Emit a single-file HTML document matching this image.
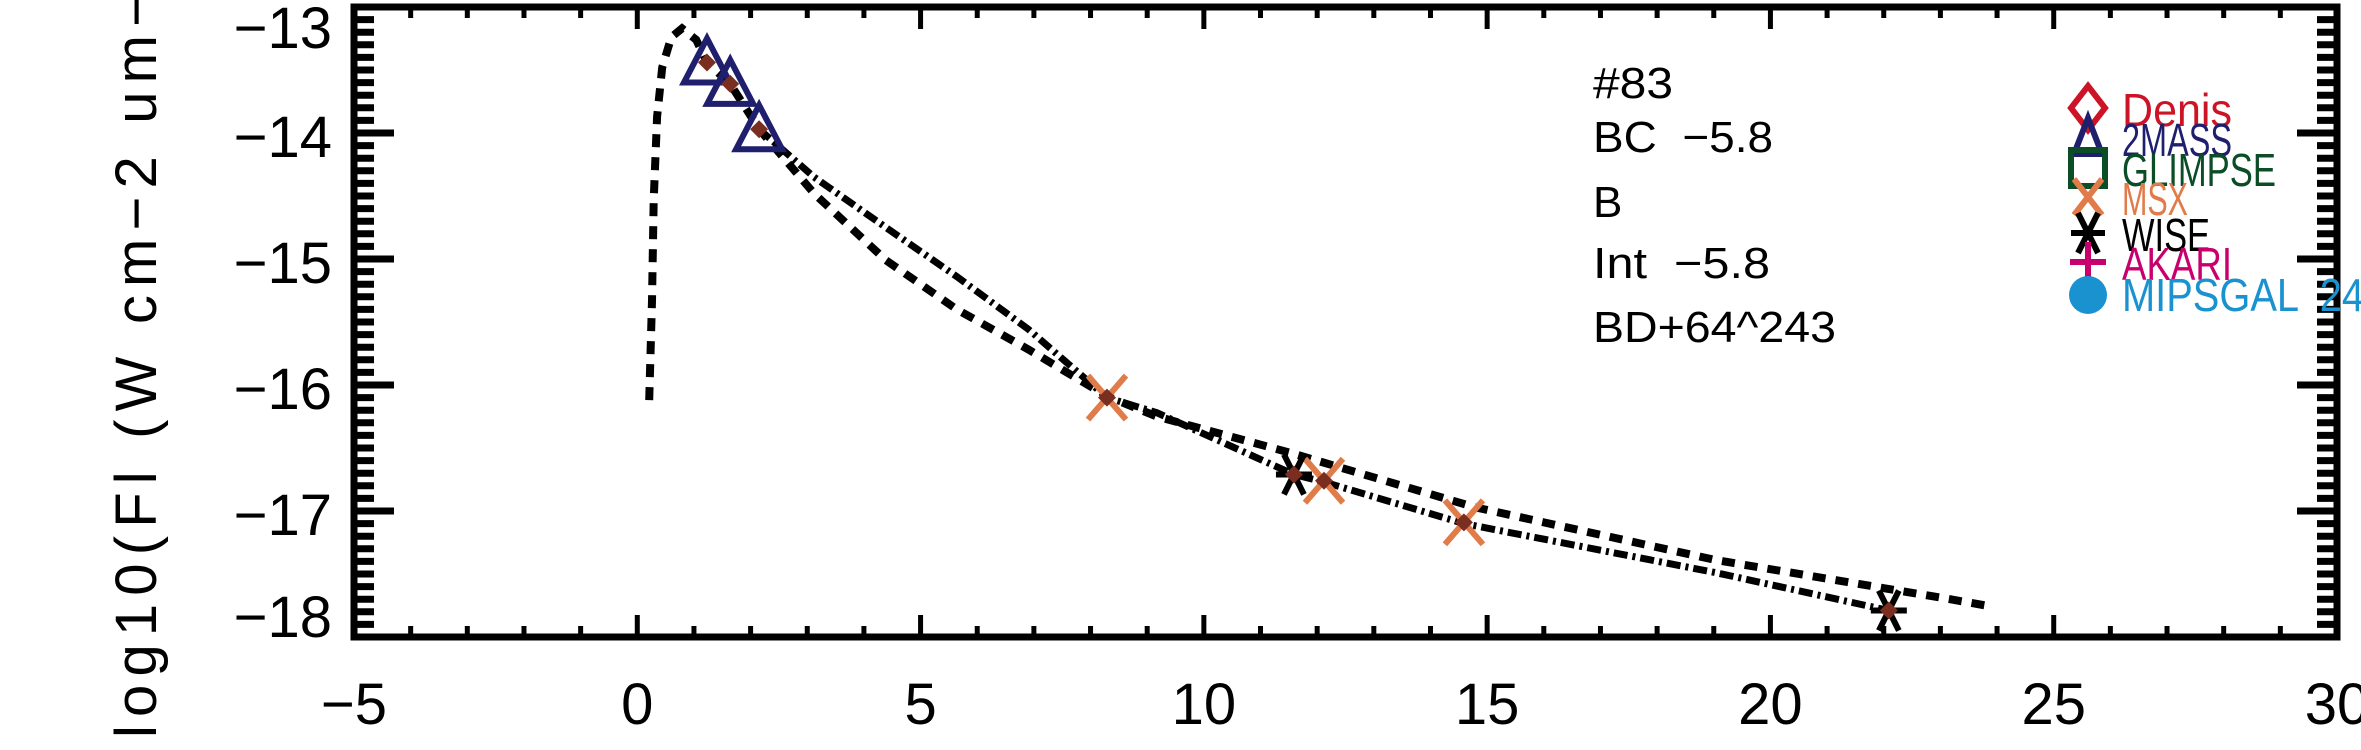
<!DOCTYPE html>
<html><head><meta charset="utf-8"><style>
html,body{margin:0;padding:0;background:#fff;}
svg{display:block;font-family:"Liberation Sans",sans-serif;}
.pre{white-space:pre;}
</style></head><body>
<svg id="chart" width="2361" height="750" viewBox="0 0 2361 750" xmlns="http://www.w3.org/2000/svg">
<g id="axes"></g>
<g id="curves"></g>
<g id="marks"></g>
<text transform="translate(156,738) rotate(-90)" font-size="58" textLength="745" lengthAdjust="spacing" fill="#000">log10(Fl (W cm−2 um−</text>
<g font-size="44" fill="#000">
<text x="1593" y="98" textLength="80" lengthAdjust="spacingAndGlyphs">#83</text>
<text class="pre" x="1593" y="152" textLength="180" lengthAdjust="spacingAndGlyphs">BC  −5.8</text>
<text x="1593" y="217">B</text>
<text class="pre" x="1593" y="278" textLength="177" lengthAdjust="spacingAndGlyphs">Int  −5.8</text>
<text x="1593" y="342" textLength="243" lengthAdjust="spacingAndGlyphs">BD+64^243</text>
</g>
<g id="legend"></g>
</svg>
<script>
const xTicks = [-5, 0, 5, 10, 15, 20, 25, 30];
const yTicks = [-13, -14, -15, -16, -17, -18];
const massX = [1.23, 1.64, 2.15];
const massY = [-13.44, -13.61, -13.97];
const msxX = [8.29, 12.12, 14.59];
const msxY = [-16.10, -16.76, -17.09];
const wiseX = [11.59, 22.09];
const wiseY = [-16.71, -17.79];
const modelX = [0.21, 0.26, 0.29, 0.35, 0.44, 0.6, 0.79, 1.04, 1.23, 1.64, 2.15, 3.12, 4.39, 5.64, 6.91, 8.29, 9.17, 11.54, 14.78, 19.04, 23.17, 23.8];
const modelY = [-16.12, -15.33, -14.53, -13.87, -13.48, -13.24, -13.17, -13.26, -13.44, -13.61, -13.97, -14.48, -15.01, -15.40, -15.72, -16.09, -16.25, -16.54, -16.97, -17.39, -17.70, -17.75];
const fitX = [2.15, 3.12, 4.39, 5.64, 6.91, 8.29, 9.17, 11.59, 12.12, 14.59, 19.04, 22.09];
const fitY = [-13.97, -14.35, -14.75, -15.14, -15.56, -16.10, -16.22, -16.71, -16.77, -17.10, -17.49, -17.79];
const legendNames = ["Denis", "2MASS", "GLIMPSE", "MSX", "WISE", "AKARI", "MIPSGAL  24"];
const legendColors = ["#cc1426", "#1f1f6e", "#0b4d26", "#e07b4a", "#000000", "#c8006e", "#1a92d0"];

const L = 354, R = 2337, T = 7, B = 637;
const X0 = -5, X1 = 30;
const sx = v => L + (v - X0) / (X1 - X0) * (R - L);
const sy = v => 7 + (-13 - v) * 126;
const NS = "http://www.w3.org/2000/svg";
function mk(tag, attrs, parent) {
  const e = document.createElementNS(NS, tag);
  for (const k in attrs) e.setAttribute(k, attrs[k]);
  parent.appendChild(e);
  return e;
}
const axes = document.getElementById('axes');
const curves = document.getElementById('curves');
const marks = document.getElementById('marks');
const legend = document.getElementById('legend');

const fr = mk('rect', {x: L, y: T, width: R - L, height: B - T, fill: 'none', stroke: '#000', 'stroke-width': 7}, axes);



for (let v = X0; v <= X1; v += 1) {
  const major = (v % 5 === 0);
  const len = major ? 22 : 11;
  const x = sx(v);
  const t1 = mk('line', {x1: x, x2: x, y1: B, y2: B - len, stroke: '#000', 'stroke-width': 5}, axes);
  
  
  const t2 = mk('line', {x1: x, x2: x, y1: T, y2: T + len, stroke: '#000', 'stroke-width': 5}, axes);
  
  
}
xTicks.forEach(v => {
  const t = mk('text', {x: sx(v), y: 724, 'font-size': 58, 'text-anchor': 'middle', fill: '#000'}, axes);
  t.textContent = v < 0 ? '−' + Math.abs(v) : String(v);
  
  
});
for (let i = 0; i <= 50; i++) {
  const v = -13 - i * 0.1;
  const y = sy(v);
  const major = (i % 10 === 0);
  const len = major ? 40 : 20;
  const a = mk('line', {x1: L, x2: L + len, y1: y, y2: y, stroke: '#000', 'stroke-width': 7}, axes);
  
  
  const b = mk('line', {x1: R, x2: R - len, y1: y, y2: y, stroke: '#000', 'stroke-width': 7}, axes);
  
  
}
yTicks.forEach(v => {
  const base = Math.min(Math.max(sy(v) + 24, 48), 637);
  const t = mk('text', {x: 332, y: base, 'font-size': 58, 'text-anchor': 'end', fill: '#000'}, axes);
  t.textContent = '−' + Math.abs(v);
  
  
});

function poly(xs, ys) { return xs.map((x, i) => sx(x).toFixed(1) + ',' + sy(ys[i]).toFixed(1)).join(' '); }
const m = mk('polyline', {points: poly(modelX, modelY), fill: 'none', stroke: '#000', 'stroke-width': 8, 'stroke-dasharray': '13 10'}, curves);


const f = mk('polyline', {points: poly(fitX, fitY), fill: 'none', stroke: '#000', 'stroke-width': 7, 'stroke-dasharray': '14 5 3 5'}, curves);



function diamond(x, y, r, parent) {
  const d = mk('polygon', {points: `${x},${y - r} ${x + r},${y} ${x},${y + r} ${x - r},${y}`, fill: '#7a2e20'}, parent);
  
  
}
massX.forEach((v, i) => {
  const x = sx(v), y = sy(massY[i]);
  const t = mk('polygon', {points: `${x},${y - 24} ${x + 23},${y + 20} ${x - 23},${y + 20}`, fill: 'none', stroke: '#1f1f6e', 'stroke-width': 6}, marks);
  
  
  diamond(x, y, 9, marks);
});
msxX.forEach((v, i) => {
  const x = sx(v), y = sy(msxY[i]);
  const p = mk('path', {d: `M${x - 19},${y - 22}L${x + 19},${y + 22}M${x + 19},${y - 22}L${x - 19},${y + 22}`, stroke: '#e07b4a', 'stroke-width': 6, fill: 'none'}, marks);
  
  
  diamond(x, y, 9, marks);
});
wiseX.forEach((v, i) => {
  const x = sx(v), y = sy(wiseY[i]);
  const p = mk('path', {d: `M${x - 18},${y}L${x + 18},${y}M${x - 10},${y - 20}L${x + 10},${y + 20}M${x + 10},${y - 20}L${x - 10},${y + 20}`, stroke: '#000', 'stroke-width': 6, fill: 'none'}, marks);
  
  
  diamond(x, y, 9, marks);
});

const legY = [108, 138, 168, 197, 233, 262, 293];
legendNames.forEach((n, i) => {
  const cx = 2088, cy = legY[i], c = legendColors[i];
  const g = mk('g', {}, legend);
  
  
  let s;
  if (i === 0) s = mk('polygon', {points: `${cx},${cy - 22} ${cx + 17},${cy} ${cx},${cy + 22} ${cx - 17},${cy}`, fill: 'none', stroke: c, 'stroke-width': 6}, g);
  else if (i === 1) s = mk('polygon', {points: `${cx},${cy - 20} ${cx + 14},${cy + 16} ${cx - 14},${cy + 16}`, fill: 'none', stroke: c, 'stroke-width': 6}, g);
  else if (i === 2) s = mk('rect', {x: cx - 17, y: cy - 18, width: 34, height: 36, fill: 'none', stroke: c, 'stroke-width': 6}, g);
  else if (i === 3) s = mk('path', {d: `M${cx - 14},${cy - 18}L${cx + 14},${cy + 18}M${cx + 14},${cy - 18}L${cx - 14},${cy + 18}`, stroke: c, 'stroke-width': 6}, g);
  else if (i === 4) s = mk('path', {d: `M${cx - 17},${cy}L${cx + 17},${cy}M${cx - 10},${cy - 20}L${cx + 10},${cy + 20}M${cx + 10},${cy - 20}L${cx - 10},${cy + 20}`, stroke: c, 'stroke-width': 6}, g);
  else if (i === 5) s = mk('path', {d: `M${cx - 18},${cy}L${cx + 18},${cy}M${cx},${cy - 20}L${cx},${cy + 18}`, stroke: c, 'stroke-width': 6}, g);
  else s = mk('circle', {cx: cx, cy: cy + 2, r: 19, fill: c}, g);
  
  
  const t = mk('text', {x: 2122, y: cy + 18, 'font-size': 46, fill: c, 'textLength': n.length * 22, 'lengthAdjust': 'spacingAndGlyphs', 'class': 'pre'}, g);
  t.textContent = n;
  
  
});
</script>
</body></html>
